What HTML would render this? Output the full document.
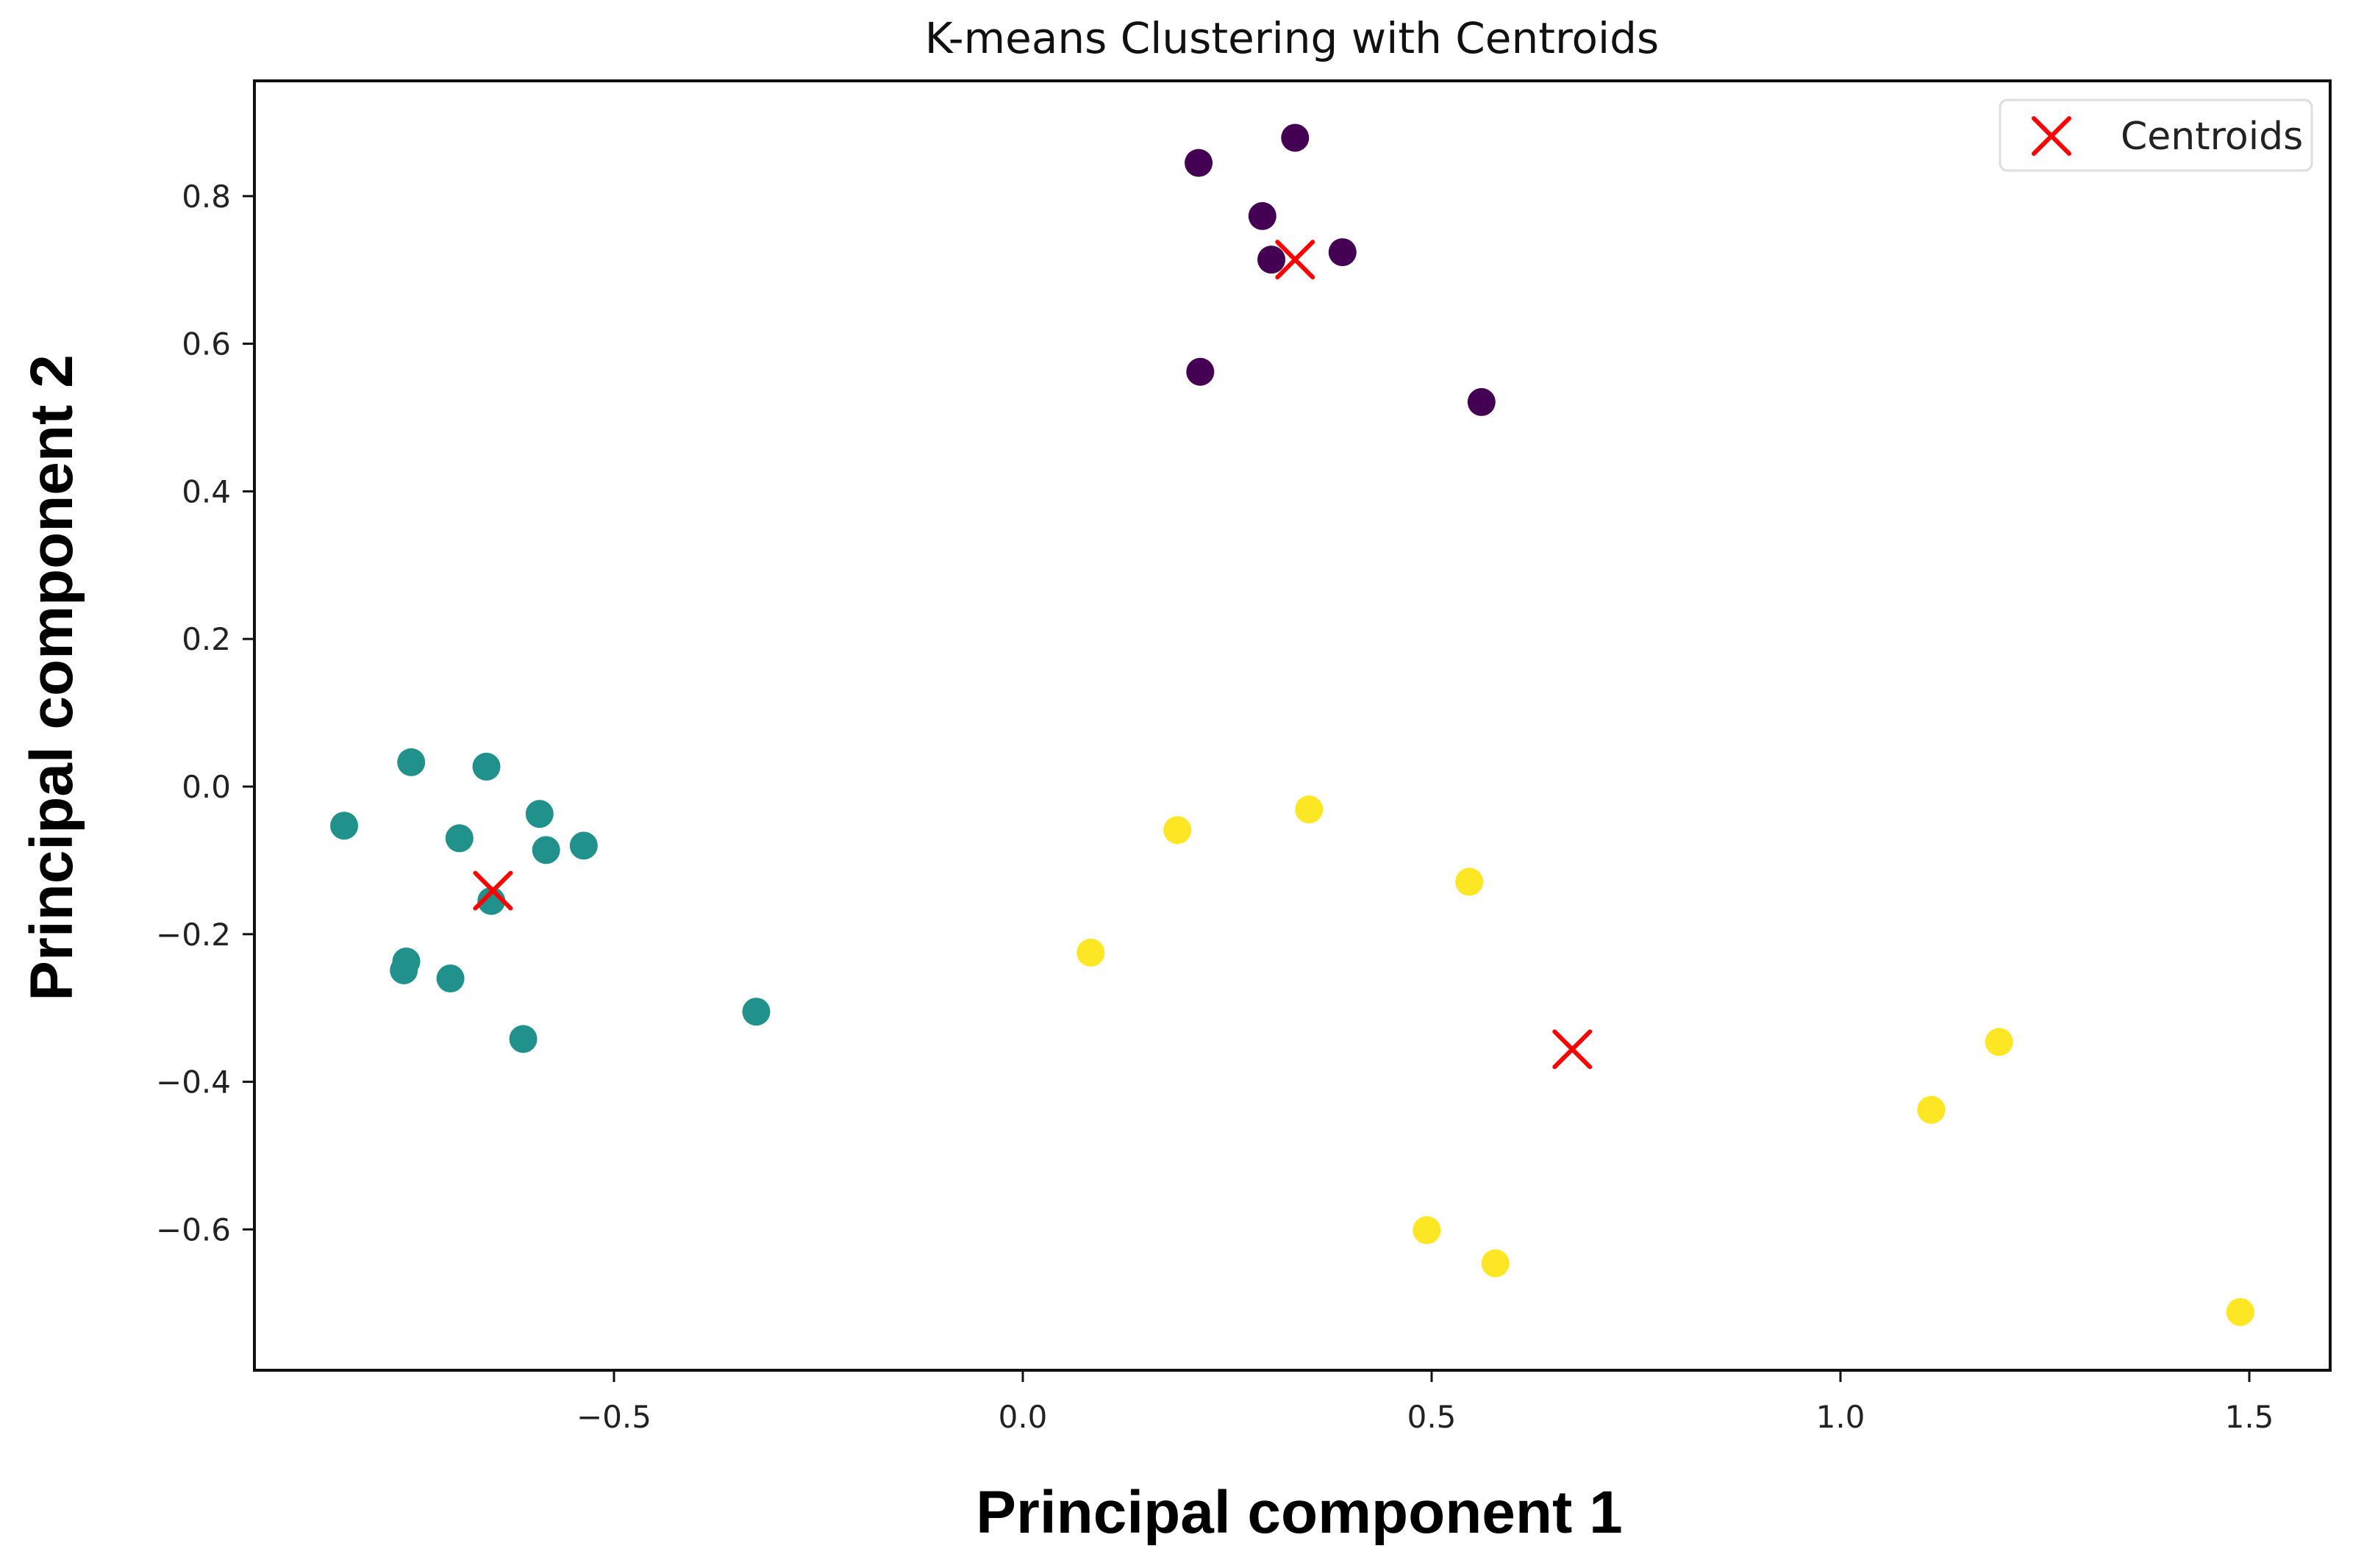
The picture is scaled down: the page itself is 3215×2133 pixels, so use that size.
<!DOCTYPE html>
<html><head><meta charset="utf-8"><style>
html,body{margin:0;padding:0;background:#fff}
svg{display:block}
text{font-family:"DejaVu Sans","Liberation Sans",sans-serif}
</style></head><body>
<svg id="chart" width="3215" height="2133" viewBox="0 0 3215 2133">
<rect x="0" y="0" width="3215" height="2133" fill="#fff"/>
<text x="1757" y="72" font-size="58" text-anchor="middle" fill="#111">K-means Clustering with Centroids</text>
<g id="ticks"></g>
<g id="marks"></g>
<rect x="346" y="110" width="2823" height="1754" fill="none" stroke="#111" stroke-width="4"/>
<text x="1767" y="2085" text-anchor="middle" fill="#000" style="font-family:'Liberation Sans',sans-serif;font-weight:bold;font-size:82px">Principal component 1</text>
<text transform="translate(98,922) rotate(-90)" text-anchor="middle" fill="#000" style="font-family:'Liberation Sans',sans-serif;font-weight:bold;font-size:82px">Principal component 2</text>
<g>
<rect x="2720" y="136" width="424" height="96" rx="10" fill="#fff" stroke="#ddd" stroke-width="3"/>
<path d="M2766 161 L2814 209 M2814 161 L2766 209" stroke="#ff0000" stroke-width="6" stroke-linecap="round"/>
<text x="2884" y="203" font-size="52" fill="#222">Centroids</text>
</g>
</svg>
<script>
const purpleX=[0.215,0.333,0.293,0.304,0.391,0.217,0.561];
const purpleY=[0.845,0.879,0.773,0.714,0.724,0.562,0.521];
const tealX=[-0.748,-0.656,-0.830,-0.689,-0.591,-0.583,-0.537,-0.650,-0.754,-0.757,-0.700,-0.611,-0.326];
const tealY=[0.033,0.027,-0.053,-0.070,-0.037,-0.086,-0.080,-0.155,-0.237,-0.249,-0.260,-0.342,-0.305];
const yellowX=[0.189,0.350,0.546,0.083,1.194,1.111,0.494,0.578,1.489];
const yellowY=[-0.059,-0.031,-0.129,-0.225,-0.346,-0.438,-0.601,-0.646,-0.712];
const centroidX=[0.333,-0.648,0.672];
const centroidY=[0.714,-0.141,-0.356];
const xTicks=[-0.5,0.0,0.5,1.0,1.5];
const xTickLabels=["\u22120.5","0.0","0.5","1.0","1.5"];
const yTicks=[0.8,0.6,0.4,0.2,0.0,-0.2,-0.4,-0.6];
const yTickLabels=["0.8","0.6","0.4","0.2","0.0","\u22120.2","\u22120.4","\u22120.6"];

const NS="http://www.w3.org/2000/svg";
function sx(v){return 1391+v*1112;}
function sy(v){return 1070-v*1004;}
const tg=document.getElementById('ticks');
const mg=document.getElementById('marks');
function mk(tag,attrs,parent){const e=document.createElementNS(NS,tag);for(const k in attrs)e.setAttribute(k,attrs[k]);parent.appendChild(e);return e;}

xTicks.forEach((t,i)=>{
  const l=mk('line',{x1:sx(t),x2:sx(t),y1:1864,y2:1880,stroke:'#111','stroke-width':3},tg);
  
  
  const tx=mk('text',{x:sx(t),y:1942,'font-size':42,'text-anchor':'middle',fill:'#222'},tg);
  tx.textContent=xTickLabels[i];
  
  
});
yTicks.forEach((t,i)=>{
  const l=mk('line',{x1:330,x2:346,y1:sy(t),y2:sy(t),stroke:'#111','stroke-width':3},tg);
  
  
  const tx=mk('text',{x:314,y:sy(t)+15,'font-size':42,'text-anchor':'end',fill:'#222'},tg);
  tx.textContent=yTickLabels[i];
  
  
});
function drawPts(xs,ys,color,name){
  xs.forEach((x,i)=>{
    const c=mk('circle',{cx:sx(x),cy:sy(ys[i]),r:19,fill:color},mg);
    
    
  });
}
drawPts(purpleX,purpleY,'#440154','point-cluster-purple');
drawPts(tealX,tealY,'#21918c','point-cluster-teal');
drawPts(yellowX,yellowY,'#fde725','point-cluster-yellow');
centroidX.forEach((x,i)=>{
  const cx=sx(x),cy=sy(centroidY[i]),h=24;
  const p=mk('path',{d:`M${cx-h} ${cy-h} L${cx+h} ${cy+h} M${cx+h} ${cy-h} L${cx-h} ${cy+h}`,stroke:'#ff0000','stroke-width':6,'stroke-linecap':'round'},mg);
  
  
});
</script>
</body></html>
